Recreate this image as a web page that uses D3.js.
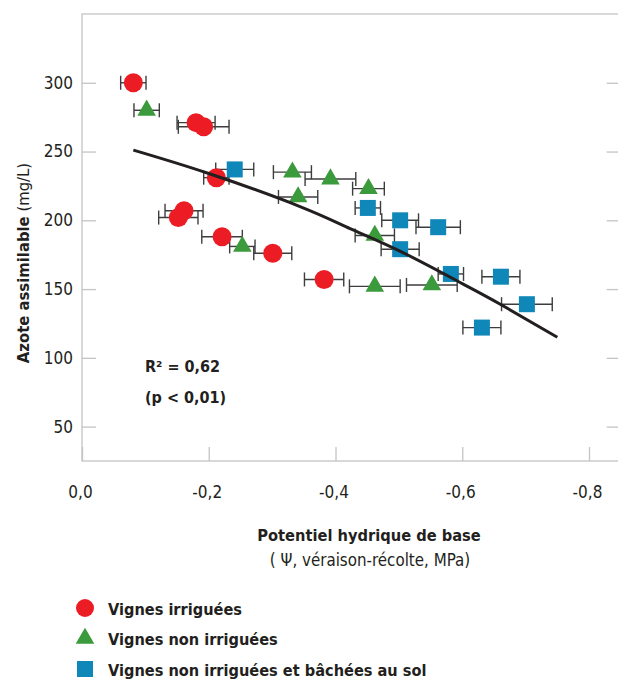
<!DOCTYPE html>
<html>
<head>
<meta charset="utf-8">
<script src="https://cdn.jsdelivr.net/npm/d3@7"></script>
<style>
  html, body { margin: 0; padding: 0; background: #fff; }
  svg { display: block; }
  text { font-family: "Liberation Sans Narrow", "DejaVu Sans Condensed", "Liberation Sans", sans-serif; fill: #231f20; }
</style>
</head>
<body>
<svg id="chart" width="618" height="679"></svg>
<script>
// ---- data (x: MPa, y: mg/L, e: +/- error on x) ----
const irriguees = [
    { x: -0.081, y: 300, e: 0.020 },
    { x: -0.180, y: 271, e: 0.030 },
    { x: -0.192, y: 268, e: 0.040 },
    { x: -0.212, y: 231, e: 0.020 },
    { x: -0.161, y: 207, e: 0.030 },
    { x: -0.152, y: 202, e: 0.031 },
    { x: -0.221, y: 188, e: 0.032 },
    { x: -0.301, y: 176, e: 0.030 },
    { x: -0.382, y: 157, e: 0.031 },
];
const nonIrriguees = [
    { x: -0.102, y: 280, e: 0.020 },
    { x: -0.332, y: 235, e: 0.030 },
    { x: -0.392, y: 230, e: 0.040 },
    { x: -0.452, y: 223, e: 0.025 },
    { x: -0.341, y: 217, e: 0.031 },
    { x: -0.462, y: 189, e: 0.031 },
    { x: -0.253, y: 181, e: 0.020 },
    { x: -0.462, y: 152, e: 0.040 },
    { x: -0.552, y: 153, e: 0.040 },
];
const bachees = [
    { x: -0.241, y: 237, e: 0.030 },
    { x: -0.451, y: 209, e: 0.020 },
    { x: -0.502, y: 200, e: 0.029 },
    { x: -0.562, y: 195, e: 0.035 },
    { x: -0.502, y: 179, e: 0.030 },
    { x: -0.582, y: 161, e: 0.020 },
    { x: -0.661, y: 159, e: 0.030 },
    { x: -0.702, y: 139, e: 0.040 },
    { x: -0.631, y: 122, e: 0.030 },
];
// regression curve, points taken along the drawn line
const fitX = [-0.081, -0.20, -0.344, -0.423, -0.50, -0.60, -0.66, -0.75];
const fitY = [251, 234, 210, 194, 178, 154, 139, 115];

const xTicks = [0, -0.2, -0.4, -0.6, -0.8];
const yTicks = [50, 100, 150, 200, 250, 300];
const seriesNames = ['Vignes irriguées', 'Vignes non irriguées', 'Vignes non irriguées et bâchées au sol'];
const statLines = ['R² = 0,62', '(p < 0,01)'];

// ---- layout ----
const plotLeft = 82, plotTop = 14, plotRight = 620.7, plotBottom = 461;
const colors = { circle: '#ec1c24', triangle: '#3b9a3b', square: '#0f87b8' };
const frameColor = '#c4c4c4';

const svg = d3.select('#chart');

const x = d3.scaleLinear().domain([0, -0.85]).range([plotLeft, plotRight]);
const y = d3.scaleLinear().domain([25, 350]).range([plotBottom, plotTop]);

// frame
svg.append('rect')
    .attr('x', plotLeft).attr('y', plotTop)
    .attr('width', plotRight - plotLeft).attr('height', plotBottom - plotTop)
    .attr('fill', 'none')
    .attr('stroke', frameColor)
    .attr('stroke-width', 1.3);

function styleAxis (g) {
    g.select('.domain').remove();
    g.selectAll('.tick line').attr('stroke', frameColor).attr('stroke-width', 1.3);
    g.selectAll('.tick text')
        .attr('fill', '#231f20')
        .style('font-size', '17px');
}

const fmt = (v) => v === 0 ? '0,0' : v.toFixed(1).replace('.', ',');

svg.append('g')
    .attr('transform', `translate(0,${plotBottom})`)
    .call(d3.axisBottom(x).tickValues(xTicks).tickFormat(fmt)
        .tickSizeInner(-14).tickSizeOuter(0).tickPadding(25))
    .call(styleAxis)
    .call((g) => g.selectAll('.tick text').attr('dy', '0.71em').attr('dx', -2));

svg.append('g')
    .attr('transform', `translate(${plotLeft},0)`)
    .call(d3.axisLeft(y).tickValues(yTicks)
        .tickSizeInner(-14).tickSizeOuter(0).tickPadding(9))
    .call(styleAxis);

svg.append('g')
    .attr('transform', `translate(${plotRight},0)`)
    .call(d3.axisLeft(y).tickValues(yTicks).tickFormat('')
        .tickSizeInner(14).tickSizeOuter(0))
    .call(styleAxis);

// axis titles
svg.append('text')
    .attr('transform', 'translate(29,263) rotate(-90)')
    .attr('text-anchor', 'middle')
    .style('font-size', '16.5px')
    .call((t) => {
        t.append('tspan').attr('font-weight', 'bold').text('Azote assimilable');
        t.append('tspan').text(' (mg/L)');
    });

svg.append('text')
    .attr('x', 369).attr('y', 541)
    .attr('text-anchor', 'middle')
    .attr('font-weight', 'bold')
    .style('font-size', '16.3px')
    .text('Potentiel hydrique de base');

svg.append('text')
    .attr('x', 370).attr('y', 566)
    .attr('text-anchor', 'middle')
    .style('font-size', '16.8px')
    .text('( Ψ, véraison-récolte, MPa)');

// stats
svg.append('g').selectAll('text')
    .data(statLines)
    .enter()
    .append('text')
    .attr('x', 145)
    .attr('y', (d, i) => 372 + i * 31)
    .attr('font-weight', 'bold')
    .style('font-size', '16px')
    .text((d) => d);

// ---- marks ----
const series = [
    { data: irriguees, shape: 'circle' },
    { data: nonIrriguees, shape: 'triangle' },
    { data: bachees, shape: 'square' },
];

const capH = 7;
const bars = svg.append('g').attr('class', 'errorbars')
    .attr('stroke', '#3d3d3d').attr('stroke-width', 1.4).attr('fill', 'none');

const allPoints = [].concat(irriguees, nonIrriguees, bachees);
const bar = bars.selectAll('g.bar')
    .data(allPoints)
    .enter()
    .append('g')
    .attr('class', 'bar');
bar.append('line')
    .attr('x1', (d) => x(d.x + d.e)).attr('x2', (d) => x(d.x - d.e))
    .attr('y1', (d) => y(d.y)).attr('y2', (d) => y(d.y));
bar.append('line')
    .attr('x1', (d) => x(d.x + d.e)).attr('x2', (d) => x(d.x + d.e))
    .attr('y1', (d) => y(d.y) - capH).attr('y2', (d) => y(d.y) + capH);
bar.append('line')
    .attr('x1', (d) => x(d.x - d.e)).attr('x2', (d) => x(d.x - d.e))
    .attr('y1', (d) => y(d.y) - capH).attr('y2', (d) => y(d.y) + capH);

const symbols = {
    circle: d3.symbol().type(d3.symbolCircle).size(Math.PI * 9.5 * 9.5),
    triangle: d3.symbol().type(d3.symbolTriangle).size(150),
    square: d3.symbol().type(d3.symbolSquare).size(16 * 16),
};

for (let s of series) {
    svg.append('g')
        .selectAll('path')
        .data(s.data)
        .enter()
        .append('path')
        .attr('transform', (d) => `translate(${x(d.x)},${y(d.y)})`)
        .attr('d', symbols[s.shape]())
        .attr('fill', colors[s.shape]);
}

// regression curve on top
const fit = fitX.map((v, i) => [v, fitY[i]]);
svg.append('path')
    .datum(fit)
    .attr('d', d3.line().x((d) => x(d[0])).y((d) => y(d[1])).curve(d3.curveNatural))
    .attr('fill', 'none')
    .attr('stroke', '#231f20')
    .attr('stroke-width', 3);

// ---- legend ----
const legend = svg.append('g').attr('class', 'legend')
    .selectAll('g')
    .data(series)
    .enter()
    .append('g')
    .attr('transform', (d, i) => `translate(85,${608 + i * 30.5})`);
legend.append('path')
    .attr('d', (d) => d.shape === 'circle'
        ? d3.symbol().type(d3.symbolCircle).size(Math.PI * 9 * 9)()
        : symbols[d.shape]())
    .attr('fill', (d) => colors[d.shape]);
legend.append('text')
    .attr('x', 23)
    .attr('y', 6.5)
    .attr('font-weight', 'bold')
    .style('font-size', '16.2px')
    .text((d, i) => seriesNames[i]);
</script>
</body>
</html>
